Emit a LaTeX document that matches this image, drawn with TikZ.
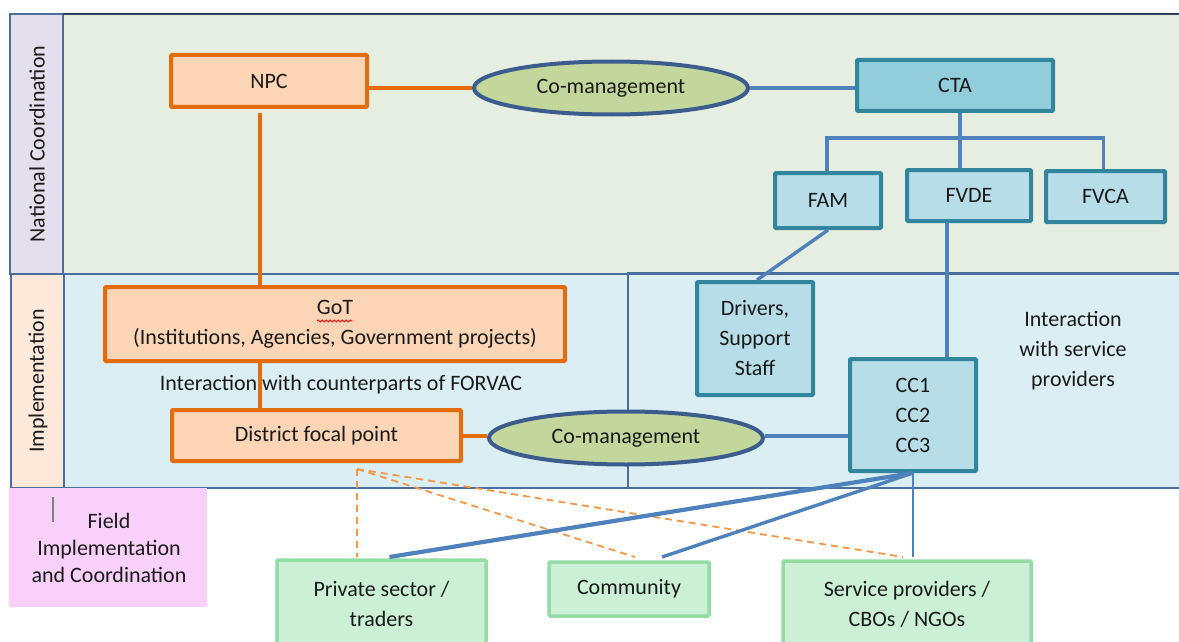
\documentclass[tikz,border=0pt]{standalone}
\usepackage{fontspec}
\setmainfont{Carlito}
\usetikzlibrary{shapes.geometric,decorations.pathmorphing}

\definecolor{txt}{HTML}{1A1A1A}
\definecolor{orgline}{HTML}{E46C0A}
\definecolor{orgfill}{HTML}{FBD5B5}
\definecolor{dashorg}{HTML}{F79646}
\definecolor{tealline}{HTML}{31859C}
\definecolor{ctafill}{HTML}{92CDDC}
\definecolor{tealfill}{HTML}{B7DDE8}
\definecolor{linkblue}{HTML}{4F81BD}
\definecolor{ellline}{HTML}{3B5C8C}
\definecolor{ellfill}{HTML}{C3D69B}
\definecolor{grnline}{HTML}{93DCA4}
\definecolor{grnfill}{HTML}{CBF0D5}
\definecolor{natfill}{HTML}{E6EEE1}
\definecolor{natstrip}{HTML}{E4DFEC}
\definecolor{impfill}{HTML}{DAEEF3}
\definecolor{impstrip}{HTML}{FDE9D9}
\definecolor{fieldfill}{HTML}{F9D0FA}
\definecolor{bandline}{HTML}{4A6F9C}

\begin{document}
\begin{tikzpicture}[x=1pt, y=-1pt,
	every node/.style={font=\fontsize{22}{30}\selectfont, text=txt, align=center, inner sep=0pt},
	orgbox/.style={draw=orgline, fill=orgfill, line width=4pt, rounded corners=1pt},
	tealbox/.style={draw=tealline, fill=tealfill, line width=4pt, rounded corners=1pt},
	grnbox/.style={draw=grnline, fill=grnfill, line width=3.5pt, rounded corners=1pt},
	comgmt/.style={ellipse, draw=ellline, fill=ellfill, line width=4pt, minimum width=274pt, minimum height=53pt},
	band/.style={draw=bandline, line width=1.3pt},
	orglink/.style={draw=orgline, line width=3.8pt},
	bluelink/.style={draw=linkblue, line width=3.4pt},
	dashlink/.style={draw=dashorg, line width=1.8pt, dash pattern=on 7pt off 5pt}]
	\clip (0,0) rectangle (1179,642);
	% bands
	\fill[natfill] (63,14) rectangle (1190,274);
	\fill[natstrip] (10,14) rectangle (63,274);
	\fill[impfill] (64,274) rectangle (1190,488);
	\fill[impstrip] (11,274) rectangle (64,488);
	\draw[band] (10,14) rectangle (63,274);
	\draw[band] (63,14) rectangle (1190,274);
	\draw[draw=bandline!60!black, line width=2pt] (63,14) -- (1190,14);
	\draw[band] (11,274) rectangle (64,488);
	\draw[band] (64,274) rectangle (628,488);
	\draw[band] (628,273) rectangle (1190,488);
	\fill[fieldfill] (9,488) rectangle (207,607);
	\draw[gray, line width=1.3pt] (53,497) -- (53,522);
	\node[rotate=90] (natlbl) at (37,144) {National Coordination};
	\node[rotate=90] (implbl) at (38,381) {Implementation};
	\node[font=\fontsize{22}{27}\selectfont] (fieldlbl) at (109,548) {Field\\Implementation\\and Coordination};

	% national coordination
	\node[orgbox, minimum width=196pt, minimum height=52pt] (npc) at (269,81) {NPC};
	\node[comgmt] (cm1) at (611,88) {Co-management};
	\node[tealbox, fill=ctafill, minimum width=196pt, minimum height=51pt] (cta) at (955,85.5) {CTA};
	\node[tealbox, minimum width=106pt, minimum height=55pt] (fam) at (828,200.5) {FAM};
	\node[tealbox, minimum width=124pt, minimum height=51pt] (fvde) at (969,195.5) {FVDE};
	\node[tealbox, minimum width=119pt, minimum height=51pt] (fvca) at (1105.5,196.5) {FVCA};
	\coordinate (split) at (960,138);
	\coordinate (npcfoot) at (260,113);
	\draw[orglink] (npc.east |- cm1.west) -- (cm1.west);
	\draw[bluelink] (cm1.east) -- (cm1.east -| cta.west);
	\draw[bluelink] (split |- cta.south) -- (split) -- (split |- fvde.north);
	\draw[bluelink] ([xshift=-1pt]fam.north) |- (split) -| ([xshift=-2pt]fvca.north);

	% implementation
	\node[orgbox, minimum width=460pt, minimum height=74pt] (got) at (335,324) {GoT\\(Institutions, Agencies, Government projects)};
	\draw[red, line width=0.8pt, decorate, decoration={snake, amplitude=1pt, segment length=4pt}] (317,321) -- (353,321);
	\node (counterpt) at (341,385) {Interaction with counterparts of FORVAC};
	\node[orgbox, minimum width=289pt, minimum height=51pt] (dfp) at (316.5,435.5) {District focal point};
	\node[comgmt] (cm2) at (626,438) {Co-management};
	\node[tealbox, minimum width=116pt, minimum height=113pt] (drivers) at (755,338.5) {Drivers,\\Support\\Staff};
	\node[tealbox, minimum width=126pt, minimum height=112pt] (cc) at (913,415) {CC1\\CC2\\CC3};
	\node (svclbl) at (1073,351) {Interaction\\with service\\providers};
	\coordinate (cmrow) at (0,436);
	\draw[orglink] (npcfoot) -- (npcfoot |- got.north);
	\draw[orglink] (npcfoot |- got.south) -- (npcfoot |- dfp.north);
	\draw[orglink] (dfp.east |- cmrow) -- (cm2.west |- cmrow);
	\draw[bluelink] (cm2.east |- cmrow) -- (cc.west |- cmrow);
	\draw[bluelink] (fam.south) -- ([xshift=2pt]drivers.north);
	\draw[bluelink] ([xshift=-22pt]fvde.south) -- ([xshift=-22pt]fvde.south |- cc.north);

	% field
	\node[grnbox, minimum width=209pt, minimum height=88pt] (private) at (381.5,604) {Private sector /\\traders};
	\node[grnbox, minimum width=160pt, minimum height=54pt] (community) at (629,589) {Community};
	\node[grnbox, minimum width=248pt, minimum height=86pt] (service) at (907,604) {Service providers /\\CBOs / NGOs};
	\coordinate (dfpfoot) at (357,469);
	\coordinate (toprow) at (0,557);
	\draw[dashlink] (dfpfoot) -- (dfpfoot |- toprow);
	\draw[dashlink] (dfpfoot) -- ([xshift=6pt]community.north |- toprow);
	\draw[dashlink] (dfpfoot) -- ([xshift=-4pt]service.north |- toprow);
	\draw[bluelink, line width=4.2pt] (cc.south) -- ([xshift=8pt]private.north |- toprow);
	\draw[bluelink] (cc.south) -- ([xshift=33pt]community.north |- toprow);
	\draw[bluelink, line width=2.8pt] (cc.south) -- (cc.south |- toprow);
\end{tikzpicture}
\end{document}
